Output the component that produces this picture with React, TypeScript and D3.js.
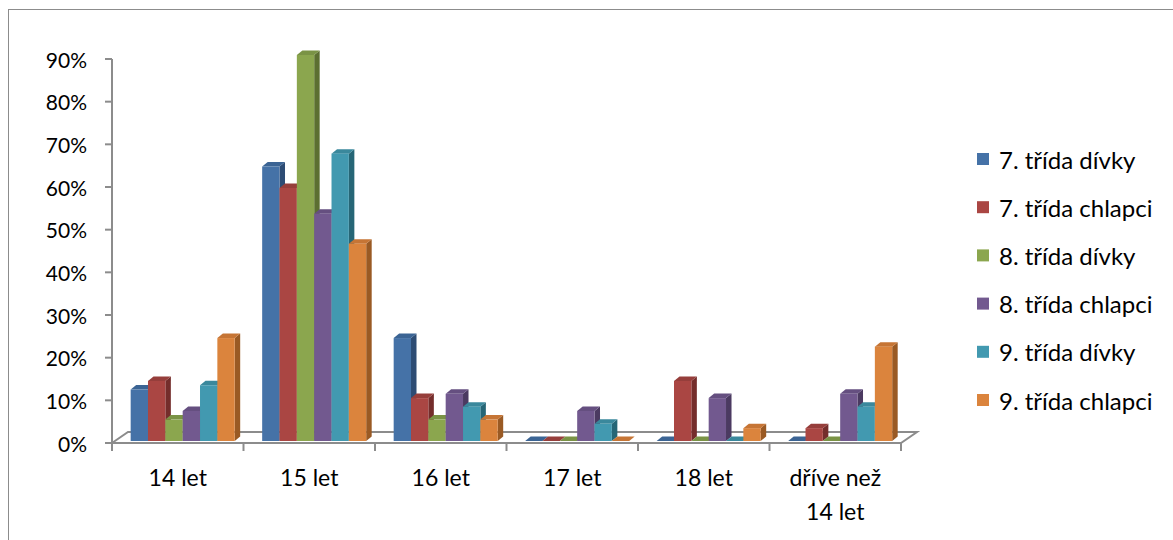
import React from "react";
import * as d3 from "d3";

const categories = ["14 let", "15 let", "16 let", "17 let", "18 let", "dříve než|14 let"];
const seriesNames = [
  "7. třída dívky",
  "7. třída chlapci",
  "8. třída dívky",
  "8. třída chlapci",
  "9. třída dívky",
  "9. třída chlapci",
];
const girls7 = [0.12, 0.64, 0.24, 0, 0, 0];
const boys7 = [0.14, 0.59, 0.1, 0, 0.14, 0.03];
const girls8 = [0.05, 0.9, 0.05, 0, 0, 0];
const boys8 = [0.07, 0.53, 0.11, 0.07, 0.1, 0.11];
const girls9 = [0.13, 0.67, 0.08, 0.04, 0, 0.08];
const boys9 = [0.24, 0.46, 0.05, 0, 0.03, 0.22];
const yTicks = [0, 0.1, 0.2, 0.3, 0.4, 0.5, 0.6, 0.7, 0.8, 0.9];

const seriesValues = [girls7, boys7, girls8, boys8, girls9, boys9];
const palette = [
  { front: "#4572A7", side: "#2D4C74", top: "#3B6494" },
  { front: "#AA4643", side: "#742D2B", top: "#963E3B" },
  { front: "#8BA64E", side: "#5C6F31", top: "#7A9345" },
  { front: "#72598F", side: "#4B3A61", top: "#654F80" },
  { front: "#4299B0", side: "#266676", top: "#3A889C" },
  { front: "#DB843D", side: "#9A5A24", top: "#C67535" },
];

const W = 1173;
const H = 540;
const FONT = "Lato, 'Open Sans', sans-serif";
const AXIS = "#8C8C8C";

// plot geometry
const x0 = 112;
const x1 = 901;
const floorFront = 443;
const depthX = 16;
const depthY = 11;
const barDX = 5.5;
const barDY = 4.5;

export default function App() {
  const xCat = d3.scaleBand<string>().domain(categories).range([x0, x1]).padding(0);
  const bw = xCat.bandwidth();
  const xSeries = d3
    .scaleBand<string>()
    .domain(seriesNames)
    .range([bw * 0.142, bw * 0.933])
    .padding(0);
  const yAxis = d3.scaleLinear().domain([0, 0.9]).range([floorFront, 59]);
  const yBar = d3.scaleLinear().domain([0, 0.9]).range([441, 55]);
  const fmt = d3.format(".0%");
  const sw = xSeries.bandwidth();

  const bars: React.ReactNode[] = [];
  categories.forEach((cat, ci) => {
    seriesNames.forEach((name, si) => {
      const v = seriesValues[si][ci];
      const x = (xCat(cat) as number) + (xSeries(name) as number);
      const top = yBar(v);
      const bot = yBar(0);
      const c = palette[si];
      const sidePts = [
        [x + sw, top],
        [x + sw + barDX, top - barDY],
        [x + sw + barDX, bot - barDY],
        [x + sw, bot],
      ];
      const topPts = [
        [x, top],
        [x + barDX, top - barDY],
        [x + sw + barDX, top - barDY],
        [x + sw, top],
      ];
      bars.push(
        <g key={`${ci}-${si}`}>
          <polygon points={sidePts.map((p) => p.join(",")).join(" ")} fill={c.side} />
          <polygon points={topPts.map((p) => p.join(",")).join(" ")} fill={c.top} />
          {v > 0 && <rect x={x} y={top} width={sw} height={bot - top} fill={c.front} />}
        </g>
      );
    });
  });

  const floorPts = [
    [x0, floorFront],
    [x0 + depthX, floorFront - depthY],
    [x1 + depthX, floorFront - depthY],
    [x1, floorFront],
  ];

  return (
    <svg
      width={W}
      height={H}
      style={{ position: "absolute", left: 0, top: 0, background: "#fff" }}
      fontFamily={FONT}
    >
      <rect x={8.5} y={9.5} width={W + 10} height={H + 10} fill="#fff" stroke="#8C8C8C" strokeWidth={1} />

      {/* floor slab */}
      <polygon
        points={floorPts.map((p) => p.join(",")).join(" ")}
        fill="#fff"
        stroke={AXIS}
        strokeWidth={2}
        strokeLinejoin="miter"
      />

      {/* value axis */}
      <line x1={x0} x2={x0} y1={yAxis(0.9)} y2={floorFront} stroke={AXIS} strokeWidth={2} />
      {yTicks.map((t) => (
        <g key={t}>
          <line x1={x0 - 7} x2={x0} y1={yAxis(t)} y2={yAxis(t)} stroke={AXIS} strokeWidth={2} />
          <text
            x={87}
            y={yAxis(t)}
            textAnchor="end"
            dominantBaseline="central"
            fontSize={21}
            fill="#000"
          >
            {fmt(t)}
          </text>
        </g>
      ))}

      {/* category ticks */}
      {categories.map((c) => (
        <line
          key={c}
          x1={xCat(c) as number}
          x2={xCat(c) as number}
          y1={floorFront}
          y2={floorFront + 8}
          stroke={AXIS}
          strokeWidth={2}
        />
      ))}
      <line x1={x1} x2={x1} y1={floorFront} y2={floorFront + 8} stroke={AXIS} strokeWidth={2} />

      {bars}

      {/* category labels */}
      {categories.map((c) => {
        const lines = c.split("|");
        const cx = (xCat(c) as number) + bw / 2;
        return (
          <text key={c} x={cx} y={486} textAnchor="middle" fontSize={23} fill="#000">
            {lines.map((l, i) => (
              <tspan key={i} x={cx} dy={i === 0 ? 0 : 34}>
                {l}
              </tspan>
            ))}
          </text>
        );
      })}

      {/* legend */}
      {seriesNames.map((name, i) => {
        const cy = 159 + i * 48.2;
        return (
          <g key={name}>
            <rect x={977} y={cy - 6} width={12} height={12} fill={palette[i].front} />
            <text x={999} y={cy} dominantBaseline="central" fontSize={24} fill="#000">
              {name}
            </text>
          </g>
        );
      })}
    </svg>
  );
}
